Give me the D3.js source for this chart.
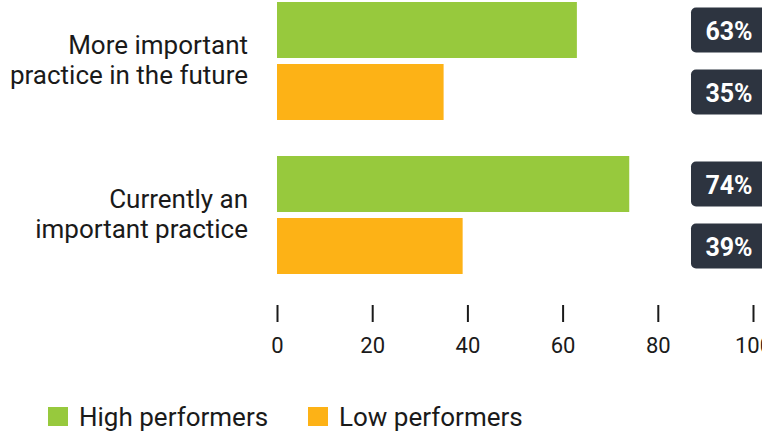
<!DOCTYPE html>
<html>
<head>
<meta charset="utf-8">
<script src="https://cdn.jsdelivr.net/npm/d3@7/dist/d3.min.js"></script>
<style>
  html, body { margin: 0; padding: 0; background: #ffffff; }
  svg { display: block; font-family: Roboto, "Noto Sans", sans-serif; }
</style>
</head>
<body>
<svg id="chart" width="762" height="434"></svg>
<script>
// Practice importance by performer group (percent of respondents)
const categories = [
  "More important practice in the future",
  "Currently an important practice"
];
const categoryLines = [
  ["More important", "practice in the future"],
  ["Currently an", "important practice"]
];
const seriesNames = ["High performers", "Low performers"];
const highPerformers = [63, 74];
const lowPerformers = [35, 39];
const tickValues = [0, 20, 40, 60, 80, 100];
const colors = ["#97c93d", "#fdb216"];

const seriesValues = [highPerformers, lowPerformers];

const svg = d3.select("#chart");

const x = d3.scaleLinear().domain([0, 100]).range([277, 753]);
const y = d3.scaleBand().domain(categories).range([2, 274]).paddingInner(36 / 154);
const ySeries = d3.scaleBand().domain(seriesNames).range([0, y.bandwidth()]).paddingInner(6 / 62);
const color = d3.scaleOrdinal().domain(seriesNames).range(colors);

const rows = [];
categories.forEach((c, i) => {
  seriesNames.forEach((s, j) => {
    rows.push({ category: c, series: s, value: seriesValues[j][i] });
  });
});

// Bars
svg.append("g")
  .selectAll("rect")
  .data(rows)
  .join("rect")
  .attr("x", x(0))
  .attr("y", d => y(d.category) + ySeries(d.series))
  .attr("width", d => x(d.value) - x(0))
  .attr("height", ySeries.bandwidth())
  .attr("fill", d => color(d.series));

// Value badges at the right edge
const badge = svg.append("g")
  .selectAll("g")
  .data(rows)
  .join("g")
  .attr("transform", d => `translate(691, ${y(d.category) + ySeries(d.series) + ySeries.bandwidth() / 2})`);

badge.append("rect")
  .attr("x", 0)
  .attr("y", -22.5)
  .attr("width", 80)
  .attr("height", 45)
  .attr("rx", 5)
  .attr("fill", "#2d3440");

badge.append("text")
  .attr("x", 38)
  .attr("y", 1)
  .attr("dy", "0.36em")
  .attr("text-anchor", "middle")
  .attr("fill", "#ffffff")
  .attr("font-weight", "700")
  .attr("font-size", 25)
  .text(d => d.value + "%");

// Category labels
const catLabel = svg.append("g")
  .selectAll("text")
  .data(categories)
  .join("text")
  .attr("text-anchor", "end")
  .attr("fill", "#1a1a1a")
  .attr("font-size", 26);

catLabel.selectAll("tspan")
  .data((d, i) => categoryLines[i].map((line, k) => ({ line, k, c: d })))
  .join("tspan")
  .attr("x", 248)
  .attr("y", d => y(d.c) + y.bandwidth() / 2 - 7.5 + d.k * 30)
  .text(d => d.line);

// Axis: tick marks and labels, no domain line
const axis = svg.append("g")
  .attr("transform", "translate(0, 305)")
  .call(d3.axisBottom(x).tickValues(tickValues).tickSize(17).tickPadding(15).tickFormat(d3.format("d")));
axis.select(".domain").remove();
axis.selectAll(".tick line").attr("stroke", "#1a1a1a").attr("stroke-width", 2);
axis.selectAll(".tick text")
  .attr("fill", "#1a1a1a")
  .attr("font-size", 22)
  .attr("font-family", "Roboto, sans-serif");

// Legend
const legendX = [48, 308];
const legend = svg.append("g")
  .selectAll("g")
  .data(seriesNames)
  .join("g")
  .attr("transform", (d, i) => `translate(${legendX[i]}, 407)`);
legend.append("rect")
  .attr("width", 20)
  .attr("height", 19)
  .attr("fill", d => color(d));
legend.append("text")
  .attr("x", 31)
  .attr("y", 9.5)
  .attr("dy", "0.36em")
  .attr("fill", "#1a1a1a")
  .attr("font-size", 26)
  .text(d => d);
</script>
</body>
</html>
